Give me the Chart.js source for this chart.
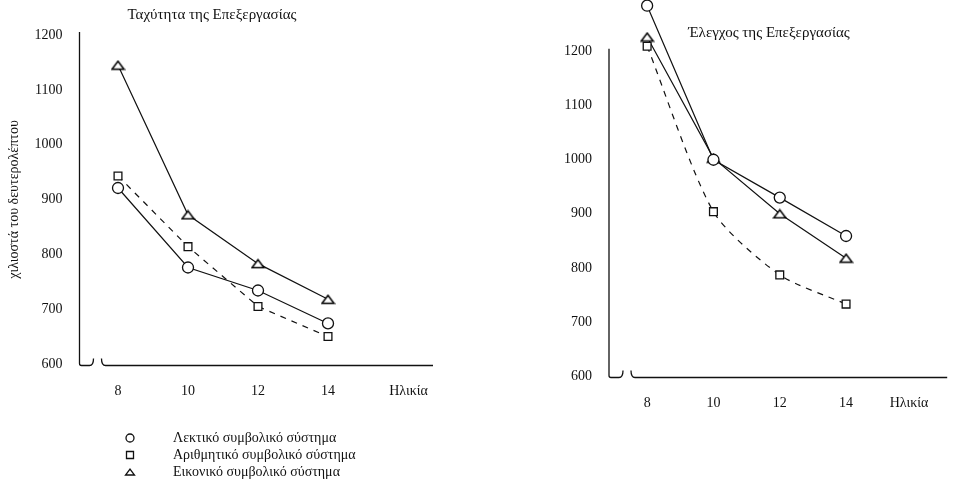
<!doctype html>
<html>
<head>
<meta charset="utf-8">
<title>Ταχύτητα και Έλεγχος της Επεξεργασίας</title>
<script src="https://cdn.jsdelivr.net/npm/chart.js@4/dist/chart.umd.min.js"></script>
<style>
  html, body { margin: 0; padding: 0; background: #fff; }
  #wrap { position: relative; width: 954px; height: 491px; }
  #wrap canvas { position: absolute; left: 0; top: 0; }
</style>
</head>
<body>
<div id="wrap">
  <canvas id="speed" width="954" height="491"></canvas>
  <canvas id="control" width="954" height="491"></canvas>
</div>
<script>
var ages = [8, 10, 12, 14];
var yTicks = [600, 700, 800, 900, 1000, 1100, 1200];
var seriesNames = ['Λεκτικό συμβολικό σύστημα', 'Αριθμητικό συμβολικό σύστημα', 'Εικονικό συμβολικό σύστημα'];

// Ταχύτητα της Επεξεργασίας (ms)
var speedVerbal = [921, 776, 734, 674];
var speedNumeric = [943, 814, 705, 650];
var speedPictorial = [1145, 872, 783, 718];

// Έλεγχος της Επεξεργασίας (ms)
var controlVerbal = [1285, 1000, 930, 859];
var controlNumeric = [1210, 904, 787, 733];
var controlPictorial = [1227, 1003, 900, 818];

var ink = '#111';
var serif = '"Liberation Serif", "Times New Roman", serif';

function makeTriangle(w, h) {
    var c = document.createElement('canvas');
    c.width = w + 3; c.height = h + 3;
    var g = c.getContext('2d');
    g.beginPath();
    g.moveTo(1.5, h + 1.5);
    g.lineTo(w + 1.5, h + 1.5);
    g.lineTo((w + 3) / 2, 1.5);
    g.closePath();
    g.fillStyle = '#fff';
    g.fill();
    g.lineWidth = 1.5;
    g.strokeStyle = '#000';
    g.stroke();
    return c;
}
var triangle = makeTriangle(12, 8);

function toPoints(values) {
    return ages.map(function(age, i) { return {x: age, y: values[i]}; });
}

function series(label, values, style, dashed, tension) {
    return {
        label: label,
        data: toPoints(values),
        borderColor: ink,
        borderWidth: 1.2,
        borderDash: dashed ? [6, 6] : [],
        tension: tension || 0,
        fill: false,
        clip: false,
        pointStyle: style,
        pointRadius: 5.5,
        pointBorderWidth: 1.3,
        pointBorderColor: ink,
        pointBackgroundColor: '#fff'
    };
}

// axis lines with the little break near the origin
var brokenAxes = {
    id: 'brokenAxes',
    afterDraw: function(chart) {
        var a = chart.chartArea, ctx = chart.ctx;
        var L = a.left, B = a.bottom + 1.5, R = a.right;
        var top = chart.scales.y.getPixelForValue(1200) - 3;
        ctx.save();
        ctx.strokeStyle = ink;
        ctx.lineWidth = 1.3;
        ctx.beginPath();
        ctx.moveTo(L, top);
        ctx.lineTo(L, B - 2);
        ctx.quadraticCurveTo(L, B, L + 2, B);
        ctx.lineTo(L + 10, B);
        ctx.quadraticCurveTo(L + 14, B, L + 14, B - 7);
        ctx.moveTo(L + 22, B - 7);
        ctx.quadraticCurveTo(L + 22, B, L + 26, B);
        ctx.lineTo(R, B);
        ctx.stroke();
        ctx.restore();
    }
};

var caption = {
    id: 'caption',
    afterDraw: function(chart, args, opts) {
        if (!opts.text) return;
        var ctx = chart.ctx;
        ctx.save();
        ctx.font = '15px ' + serif;
        ctx.fillStyle = ink;
        ctx.textAlign = 'center';
        ctx.textBaseline = 'middle';
        ctx.fillText(opts.text, opts.x, opts.y);
        ctx.restore();
    }
};

function drawMarker(ctx, style, x, y) {
    ctx.beginPath();
    if (style === 'circle') {
        ctx.arc(x, y, 4, 0, Math.PI * 2);
    } else if (style === 'rect') {
        ctx.rect(x - 3.5, y - 3.5, 7, 7);
    } else {
        ctx.moveTo(x - 4.5, y + 3);
        ctx.lineTo(x + 4.5, y + 3);
        ctx.lineTo(x, y - 3);
        ctx.closePath();
    }
    ctx.fill();
    ctx.stroke();
}

var markerLegend = {
    id: 'markerLegend',
    afterDraw: function(chart, args, opts) {
        if (!opts.markers) return;
        var ctx = chart.ctx;
        ctx.save();
        ctx.strokeStyle = ink;
        ctx.lineWidth = 1.3;
        chart.data.datasets.forEach(function(ds, i) {
            var y = opts.y + i * opts.gap;
            ctx.fillStyle = '#fff';
            drawMarker(ctx, opts.markers[i], opts.x, y);
            ctx.fillStyle = ink;
            ctx.font = '14px ' + serif;
            ctx.textAlign = 'left';
            ctx.textBaseline = 'middle';
            ctx.fillText(ds.label, opts.textX, y);
        });
        ctx.restore();
    }
};

function makeChart(id, cfg) {
    var tickFont = {family: serif, size: 14};
    return new Chart(document.getElementById(id), {
        type: 'line',
        data: {
            datasets: [
                series(seriesNames[0], cfg.verbal, 'circle', false, 0),
                series(seriesNames[1], cfg.numeric, 'rect', true, cfg.dashTension),
                series(seriesNames[2], cfg.pictorial, triangle, false, 0)
            ]
        },
        options: {
            responsive: false,
            animation: false,
            devicePixelRatio: 1,
            layout: {padding: cfg.padding},
            plugins: {
                legend: {display: false},
                tooltip: {enabled: false},
                caption: cfg.caption,
                markerLegend: cfg.legend || {}
            },
            scales: {
                x: {
                    type: 'linear',
                    min: cfg.xMin,
                    max: cfg.xMax,
                    // invisible tick marks give the label gap without extra layout padding
                    grid: {display: false, drawTicks: true, tickLength: 19},
                    border: {display: false},
                    afterFit: function(s) { s.height = cfg.xHeight; },
                    afterBuildTicks: function(s) {
                        s.ticks = ages.concat([cfg.agePos]).map(function(v) { return {value: v}; });
                    },
                    ticks: {
                        padding: 0,
                        color: ink,
                        font: tickFont,
                        maxRotation: 0,
                        autoSkip: false,
                        callback: function(v) { return v === cfg.agePos ? 'Ηλικία' : String(v); }
                    }
                },
                y: {
                    type: 'linear',
                    min: 600,
                    max: cfg.yMax,
                    grid: {display: false, drawTicks: true, tickLength: 17},
                    border: {display: false},
                    afterFit: function(s) { s.width = cfg.yWidth; },
                    afterBuildTicks: function(s) {
                        s.ticks = yTicks.map(function(v) { return {value: v}; });
                    },
                    ticks: {
                        padding: 0,
                        color: ink,
                        font: tickFont,
                        callback: function(v) { return String(v); }
                    },
                    title: {
                        display: !!cfg.yTitle,
                        text: cfg.yTitle || '',
                        color: ink,
                        font: {family: serif, size: 14},
                        padding: {top: 6, bottom: 0}
                    }
                }
            }
        },
        plugins: [brokenAxes, caption, markerLegend]
    });
}

window.onload = function() {
    makeChart('speed', {
        verbal: speedVerbal, numeric: speedNumeric, pictorial: speedPictorial,
        dashTension: 0,
        xMin: 6.9, xMax: 17, agePos: 16.3, yMax: 1200,
        padding: {left: 0, top: 35, right: 521, bottom: 0},
        yWidth: 79.5, xHeight: 127,
        yTitle: 'χιλιοστά του δευτερολέπτου',
        caption: {text: 'Ταχύτητα της Επεξεργασίας', x: 212, y: 15},
        legend: {markers: ['circle', 'rect', 'triangle'], x: 130, textX: 173, y: 438, gap: 17}
    });
    makeChart('control', {
        verbal: controlVerbal, numeric: controlNumeric, pictorial: controlPictorial,
        dashTension: 0.25,
        xMin: 6.85, xMax: 17.05, agePos: 15.9, yMax: 1280,
        padding: {left: 549, top: 0, right: 0, bottom: 0},
        yWidth: 60, xHeight: 115,
        caption: {text: 'Έλεγχος της Επεξεργασίας', x: 769, y: 33}
    });
};
</script>
</body>
</html>
